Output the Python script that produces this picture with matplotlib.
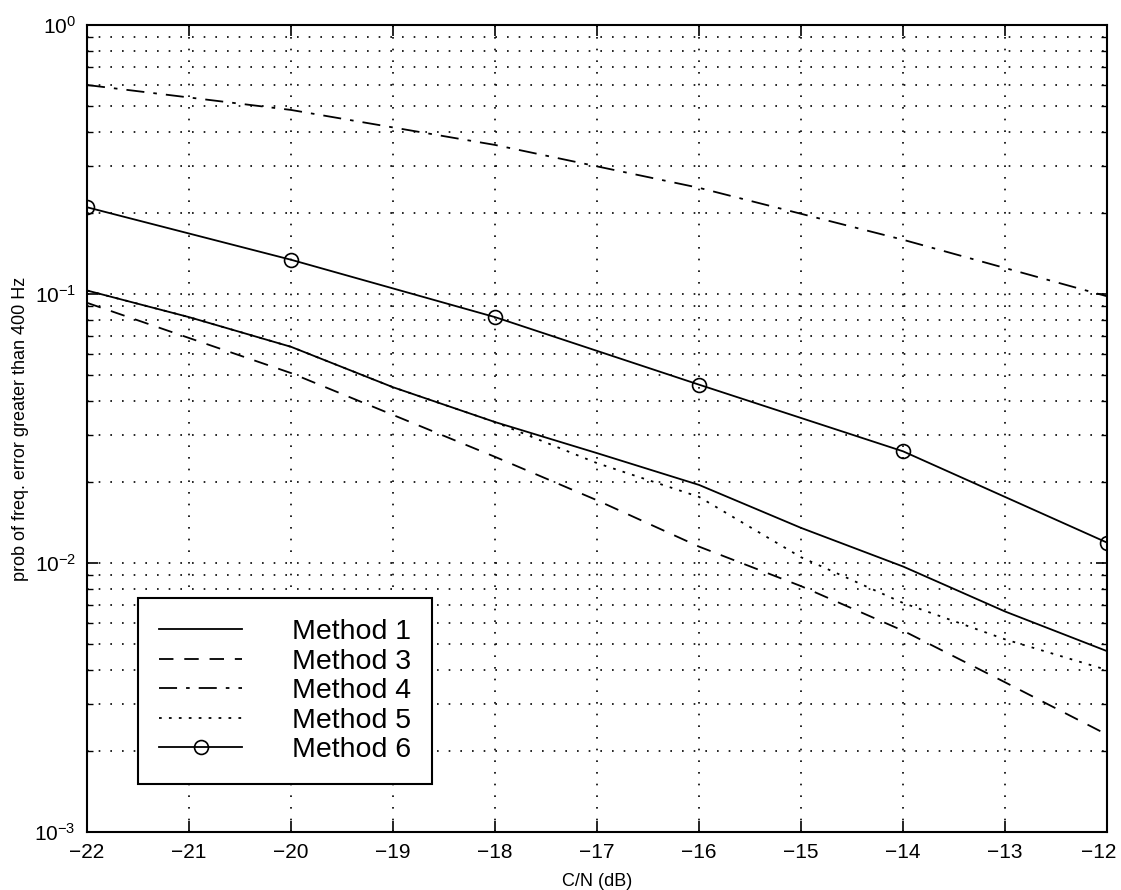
import matplotlib.pyplot as plt
import matplotlib.transforms as mtransforms
from matplotlib.ticker import LogLocator, NullFormatter

plt.rcParams["font.family"] = ["Liberation Sans", "DejaVu Sans"]

snr = [-22, -21, -20, -19, -18, -17, -16, -15, -14, -13, -12]
method1 = [0.103, 0.082, 0.0636, 0.045, 0.0334, 0.0256, 0.0195, 0.0135, 0.0097, 0.0066, 0.0047]
method3 = [0.0927, 0.0686, 0.0508, 0.0355, 0.0248, 0.0171, 0.0115, 0.0082, 0.0056, 0.0036, 0.0023]
method5 = [0.103, 0.082, 0.0636, 0.045, 0.0334, 0.0235, 0.0176, 0.0105, 0.0071, 0.0052, 0.0040]

snr_even = [-22, -20, -18, -16, -14, -12]
method4 = [0.598, 0.483, 0.358, 0.248, 0.159, 0.098]
method6 = [0.21, 0.134, 0.082, 0.046, 0.026, 0.0119]

fig = plt.figure(figsize=(11.21, 8.90), dpi=100)
ax = fig.add_axes([0.0776, 0.0652, 0.91, 0.9068])

ax.semilogy(snr, method1, "-", color="black", lw=1.3, label="Method 1")
ax.semilogy(snr, method3, color="black", lw=1.3, dashes=(8, 6), label="Method 3")
ax.semilogy(snr_even, method4, color="black", lw=1.3, dashes=(10, 5, 2, 5), label="Method 4")
ax.semilogy(snr, method5, color="black", lw=1.3, dashes=(1.5, 4), label="Method 5")
ax.semilogy(snr_even, method6, "-o", color="black", lw=1.3, ms=10, mfc="none", mew=1.2,
            label="Method 6")

ax.set_xlim(-22, -12)
ax.set_ylim(1e-3, 1)
ax.set_xticks(range(-22, -11))
ax.yaxis.set_major_locator(LogLocator(base=10, numticks=10))
ax.yaxis.set_minor_locator(LogLocator(base=10, subs=range(2, 10), numticks=10))
ax.yaxis.set_minor_formatter(NullFormatter())

ax.grid(True, which="major", color="black", linestyle=(0, (1, 6)), lw=1.2)
ax.grid(True, which="minor", axis="y", color="black", linestyle=(0, (1, 6)), lw=1.2)

ax.tick_params(which="both", direction="in", top=True, right=True, labelsize=15, pad=8)
ax.tick_params(which="major", length=8, width=1.2)
ax.tick_params(which="minor", length=4, width=1)
for s in ax.spines.values():
    s.set_linewidth(1.5)

# nudge the last x label left so it stays inside the figure
fig.canvas.draw()
last = ax.get_xticklabels()[-1]
last.set_transform(last.get_transform() + mtransforms.ScaledTranslation(-8 / 100, 0, fig.dpi_scale_trans))

ax.set_xlabel("C/N (dB)", fontsize=13, labelpad=8)
ax.set_ylabel("prob of freq. error greater than 400 Hz", fontsize=13, labelpad=4)

leg = ax.legend(loc="lower left", bbox_to_anchor=(0.05, 0.059), fontsize=20.5,
                handlelength=2.9, handletextpad=1.75, labelspacing=0.12,
                borderpad=0.75, fancybox=False, framealpha=1, edgecolor="black",
                borderaxespad=0)
leg.get_frame().set_linewidth(1.5)

fig.savefig("out.png", dpi=100)
